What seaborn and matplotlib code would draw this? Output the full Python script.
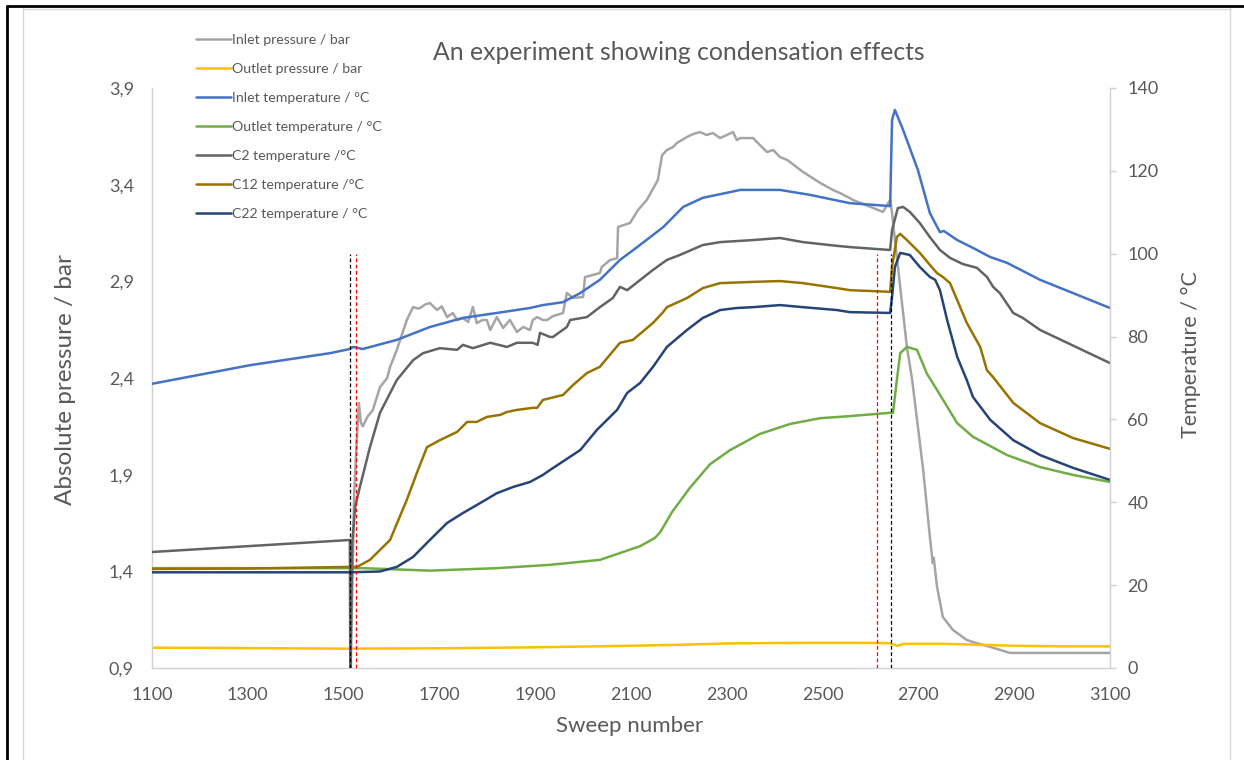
import matplotlib
matplotlib.use("Agg")
import matplotlib.pyplot as plt
from matplotlib.lines import Line2D
import pandas as pd
import seaborn as sns

# ---------------- channel data (sweep number, value) ----------------
inlet_pressure_sweep = [1513, 1515, 1522, 1528, 1532, 1536, 1540, 1550, 1561, 1576, 1591, 1597,
                        1611, 1618, 1632, 1645, 1653, 1660, 1670, 1680, 1695, 1705, 1716, 1728,
                        1737, 1749, 1760, 1770, 1778, 1790, 1799, 1806, 1820, 1833, 1847, 1862,
                        1875, 1889, 1895, 1904, 1916, 1925, 1937, 1958, 1966, 1979, 2000, 2004,
                        2035, 2039, 2056, 2071, 2073, 2098, 2115, 2133, 2156, 2165, 2175, 2188,
                        2196, 2217, 2230, 2244, 2258, 2271, 2286, 2300, 2313, 2321, 2328, 2355,
                        2369, 2384, 2397, 2411, 2426, 2459, 2495, 2522, 2536, 2557, 2563, 2605,
                        2626, 2641, 2645, 2651, 2676, 2687, 2710, 2724, 2730, 2732, 2739, 2751,
                        2772, 2801, 2814, 2850, 2891, 3100]
inlet_pressure_bar = [0.85, 0.90, 1.80, 2.10, 2.27, 2.17, 2.15, 2.20, 2.234, 2.353, 2.40, 2.457,
                      2.545, 2.597, 2.700, 2.767, 2.760, 2.762, 2.780, 2.788, 2.752, 2.770, 2.715, 2.736,
                      2.700, 2.710, 2.690, 2.767, 2.684, 2.700, 2.700, 2.648, 2.715, 2.659, 2.700, 2.638,
                      2.664, 2.648, 2.700, 2.715, 2.700, 2.700, 2.720, 2.736, 2.840, 2.814, 2.819, 2.922,
                      2.943, 2.974, 3.010, 3.020, 3.181, 3.202, 3.270, 3.321, 3.424, 3.553, 3.579, 3.595,
                      3.616, 3.647, 3.662, 3.672, 3.657, 3.667, 3.641, 3.657, 3.672, 3.631, 3.641, 3.641,
                      3.605, 3.569, 3.579, 3.543, 3.528, 3.466, 3.409, 3.372, 3.357, 3.330, 3.321, 3.280,
                      3.259, 3.321, 3.253, 3.114, 2.560, 2.390, 1.924, 1.578, 1.443, 1.470, 1.319, 1.164,
                      1.097, 1.045, 1.034, 1.009, 0.978, 0.978]

outlet_pressure_sweep = [1100, 1300, 1500, 1700, 1900, 2100, 2200, 2300, 2450, 2600, 2640, 2655,
                         2670, 2750, 2800, 2900, 3000, 3100]
outlet_pressure_bar = [1.005, 1.003, 1.000, 1.002, 1.007, 1.015, 1.020, 1.027, 1.030, 1.030, 1.028, 1.015,
                       1.025, 1.025, 1.022, 1.015, 1.012, 1.012]

inlet_temp_sweep = [1100, 1305, 1472, 1513, 1520, 1540, 1611, 1680, 1749, 1820, 1889, 1916, 1958,
                    1994, 2035, 2077, 2113, 2167, 2209, 2250, 2300, 2328, 2411, 2474, 2557, 2641,
                    2645, 2651, 2668, 2699, 2724, 2745, 2753, 2781, 2814, 2850, 2885, 2927, 2954, 3100]
inlet_temp_c = [68.6, 73.1, 76.0, 77.0, 77.5, 77.0, 79.2, 82.3, 84.5, 85.7, 86.9, 87.6, 88.3,
                90.5, 93.7, 98.5, 101.6, 106.4, 111.3, 113.5, 114.7, 115.4, 115.4, 114.2, 112.2, 111.5,
                132.3, 134.7, 129.9, 120.2, 109.8, 105.2, 105.5, 103.3, 101.4, 99.2, 97.8, 95.3, 93.7, 86.9]

outlet_temp_sweep = [1100, 1300, 1513, 1540, 1680, 1820, 1931, 2035, 2119, 2150, 2161, 2186, 2223,
                     2265, 2307, 2369, 2432, 2495, 2557, 2641, 2647, 2655, 2662, 2676, 2697, 2718,
                     2739, 2781, 2814, 2885, 2954, 3023, 3100]
outlet_temp_c = [24.1, 24.1, 24.1, 24.1, 23.5, 24.1, 24.9, 26.1, 29.4, 31.4, 32.8, 37.7, 43.5,
                 49.2, 52.6, 56.5, 58.9, 60.3, 60.8, 61.6, 61.6, 69.5, 76.0, 77.5, 76.8, 71.0,
                 67.1, 59.1, 55.8, 51.4, 48.5, 46.6, 44.9]

c2_sweep = [1100, 1513, 1514, 1518, 1524, 1534, 1555, 1576, 1611, 1645, 1666, 1701, 1737, 1749,
            1770, 1806, 1841, 1862, 1895, 1905, 1910, 1931, 1937, 1966, 1973, 2008, 2035, 2062,
            2077, 2092, 2146, 2175, 2202, 2250, 2286, 2355, 2411, 2459, 2530, 2557, 2641, 2645,
            2657, 2668, 2682, 2703, 2724, 2745, 2766, 2793, 2822, 2843, 2854, 2856, 2870, 2898,
            2918, 2954, 3100]
c2_temp_c = [28.0, 30.9, 0.0, 30.0, 38.9, 43.7, 53.3, 61.6, 69.5, 74.3, 76.0, 77.2, 76.8, 78.0,
             77.2, 78.5, 77.5, 78.5, 78.5, 78.0, 80.9, 79.9, 79.9, 82.3, 84.0, 84.7, 87.1, 89.3,
             92.0, 91.2, 96.1, 98.5, 99.7, 102.1, 102.8, 103.3, 103.8, 102.8, 101.9, 101.6, 100.9, 105.7,
             111.0, 111.3, 110.1, 107.4, 104.0, 100.9, 99.0, 97.5, 96.6, 94.4, 92.4, 92.0, 90.5, 85.7,
             84.5, 81.6, 73.6]

c12_sweep = [1100, 1300, 1513, 1528, 1555, 1597, 1632, 1653, 1674, 1701, 1737, 1758, 1778, 1799,
             1827, 1841, 1862, 1895, 1904, 1916, 1958, 1979, 2008, 2035, 2077, 2104, 2146, 2167,
             2175, 2217, 2250, 2286, 2355, 2411, 2459, 2530, 2557, 2641, 2645, 2655, 2662, 2676,
             2703, 2724, 2739, 2751, 2766, 2781, 2801, 2829, 2843, 2856, 2898, 2954, 3023, 3100]
c12_temp_c = [23.9, 24.0, 24.4, 24.4, 26.1, 30.9, 40.6, 47.1, 53.3, 55.0, 57.0, 59.4, 59.4, 60.6,
              61.1, 61.8, 62.3, 62.8, 62.8, 64.7, 65.9, 68.3, 71.2, 72.7, 78.5, 79.2, 83.3, 85.9,
              87.1, 89.3, 91.7, 92.9, 93.2, 93.4, 92.9, 91.7, 91.2, 90.8, 96.8, 104.0, 104.8, 103.3,
              100.2, 97.3, 95.3, 94.4, 92.9, 88.8, 83.3, 77.5, 71.9, 70.2, 64.0, 59.1, 55.5, 52.9]

c22_sweep = [1100, 1513, 1576, 1611, 1645, 1680, 1716, 1749, 1785, 1820, 1854, 1889, 1916, 1931,
             1994, 2029, 2071, 2092, 2119, 2146, 2175, 2217, 2250, 2286, 2321, 2355, 2411, 2459,
             2530, 2557, 2641, 2645, 2651, 2662, 2682, 2703, 2724, 2735, 2745, 2760, 2781, 2801,
             2814, 2850, 2898, 2954, 3023, 3100]
c22_temp_c = [23.1, 23.1, 23.3, 24.4, 26.8, 30.9, 35.0, 37.4, 39.8, 42.2, 43.7, 44.9, 46.6, 47.8,
              52.6, 57.5, 62.3, 66.4, 68.8, 72.7, 77.5, 81.6, 84.5, 86.4, 86.9, 87.1, 87.6, 87.1,
              86.4, 85.9, 85.7, 89.6, 96.8, 100.2, 99.7, 96.8, 94.4, 93.7, 91.2, 84.0, 75.1, 69.5,
              65.4, 59.9, 55.0, 51.4, 48.3, 45.4]

# event markers (sweep numbers) drawn as dashed verticals up to 100 °C
event_black_sweeps = [1513, 2642]
event_red_sweeps = [1526, 2613]
event_top_c = 100

# axis ticks
sweep_ticks = [1100, 1300, 1500, 1700, 1900, 2100, 2300, 2500, 2700, 2900, 3100]
pressure_ticks = [0.9, 1.4, 1.9, 2.4, 2.9, 3.4, 3.9]
pressure_tick_labels = ["0,9", "1,4", "1,9", "2,4", "2,9", "3,4", "3,9"]
temp_ticks = [0, 20, 40, 60, 80, 100, 120, 140]

# ---------------- styling ----------------
sns.set_theme(style="white")
plt.rcParams["font.family"] = ["Lato", "DejaVu Sans"]
TEXT = "#595959"
SPINE = "#D0D0D0"
LW = 1.8

fig = plt.figure(figsize=(12.44, 7.6), dpi=100)
W, H = 1244, 760
ax = fig.add_axes([152 / W, 1 - 668 / H, (1110 - 152) / W, (668 - 88) / H])
ax2 = ax.twinx()

pressure_series = [
    ("Inlet pressure / bar", inlet_pressure_sweep, inlet_pressure_bar, "#A5A5A5"),
    ("Outlet pressure / bar", outlet_pressure_sweep, outlet_pressure_bar, "#FFC000"),
]
temp_series = [
    ("Inlet temperature / °C", inlet_temp_sweep, inlet_temp_c, "#4472C4"),
    ("Outlet temperature / °C", outlet_temp_sweep, outlet_temp_c, "#70AD47"),
    ("C2 temperature /°C", c2_sweep, c2_temp_c, "#636363"),
    ("C12 temperature /°C", c12_sweep, c12_temp_c, "#997300"),
    ("C22 temperature / °C", c22_sweep, c22_temp_c, "#264478"),
]

handles = []
for name, xs, ys, col in pressure_series:
    df = pd.DataFrame({"sweep": xs, "value": ys})
    sns.lineplot(data=df, x="sweep", y="value", ax=ax, color=col, lw=LW,
                 estimator=None, sort=False, legend=False)
    handles.append(Line2D([], [], color=col, lw=LW, label=name))

for name, xs, ys, col in temp_series:
    df = pd.DataFrame({"sweep": xs, "value": ys})
    sns.lineplot(data=df, x="sweep", y="value", ax=ax2, color=col, lw=LW,
                 estimator=None, sort=False, legend=False)
    handles.append(Line2D([], [], color=col, lw=LW, label=name))

ax2.vlines(event_black_sweeps, 0, event_top_c, colors="black", lw=0.9, linestyles=(0, (3, 2)))
ax2.vlines(event_red_sweeps, 0, event_top_c, colors="#FF0000", lw=0.9, linestyles=(0, (3, 2)))

# ---------------- axes ----------------
ax.set_xlim(1100, 3100)
ax.set_ylim(0.9, 3.9)
ax2.set_ylim(0, 140)
ax.set_xticks(sweep_ticks)
ax.set_xticklabels([str(t) for t in sweep_ticks])
ax.set_yticks(pressure_ticks)
ax.set_yticklabels(pressure_tick_labels)
ax2.set_yticks(temp_ticks)
ax2.set_yticklabels([str(t) for t in temp_ticks])
for a in (ax, ax2):
    a.set_xlabel("")
    a.set_ylabel("")
    a.grid(False)
    for s in a.spines.values():
        s.set_visible(False)
ax.spines["left"].set_visible(True)
ax.spines["bottom"].set_visible(True)
ax2.spines["right"].set_visible(True)
for s in (ax.spines["left"], ax.spines["bottom"], ax2.spines["right"]):
    s.set_color(SPINE)
    s.set_linewidth(1.0)

ax.tick_params(axis="x", length=0, pad=14, labelsize=13, colors=TEXT)
ax.tick_params(axis="y", length=0, pad=13, labelsize=13, colors=TEXT)
ax2.tick_params(axis="y", length=4.5, width=1.0, color=SPINE, pad=8, labelsize=13, labelcolor=TEXT)

# ---------------- text ----------------
fig.text(679 / W, 1 - 53 / H, "An experiment showing condensation effects",
         ha="center", va="center", fontsize=17.8, color=TEXT)
fig.text(630 / W, 1 - 726 / H, "Sweep number", ha="center", va="center", fontsize=16, color=TEXT)
fig.text(65 / W, 1 - 380 / H, "Absolute pressure / bar", rotation=90,
         ha="center", va="center", fontsize=17.5, color=TEXT)
fig.text(1191 / W, 1 - 355 / H, "Temperature / °C", rotation=90,
         ha="center", va="center", fontsize=15.5, color=TEXT)

fig.legend(handles=handles, loc="upper left", bbox_to_anchor=(196 / W, 1 - 34 / H),
           frameon=False, fontsize=10.2, handlelength=2.45, handletextpad=0.12,
           labelspacing=1.2, borderpad=0, borderaxespad=0, labelcolor=TEXT)

# ---------------- frame around the chart ----------------
fig.add_artist(Line2D([23 / W, 23 / W], [0, 1 - 8 / H], color="#D9D9D9", lw=1.0))
fig.add_artist(Line2D([1230 / W, 1230 / W], [0, 1 - 8 / H], color="#D9D9D9", lw=1.0))
fig.add_artist(Line2D([23 / W, 1230 / W], [1 - 8.5 / H, 1 - 8.5 / H], color="#D9D9D9", lw=1.0))
fig.add_artist(Line2D([7 / W, 1.0], [1 - 6 / H, 1 - 6 / H], color="black", lw=2.0))
fig.add_artist(Line2D([7 / W, 7 / W], [0, 1 - 6 / H], color="black", lw=2.0))

fig.savefig("out.png", dpi=100)
